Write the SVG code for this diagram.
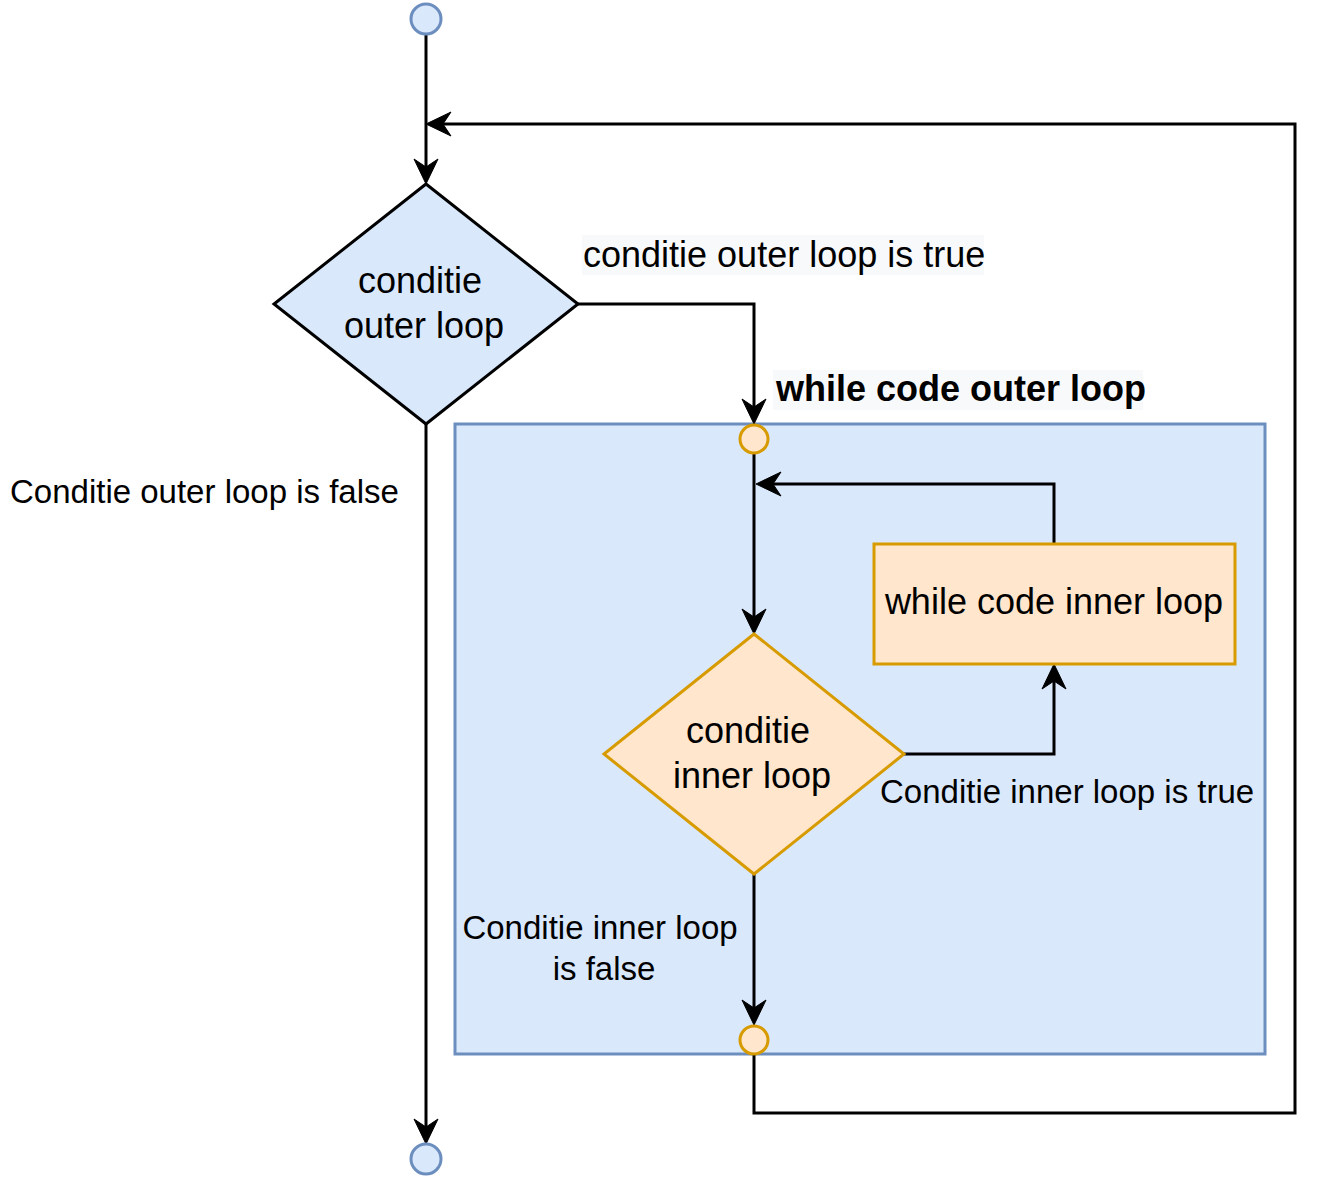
<svg xmlns="http://www.w3.org/2000/svg" width="1323" height="1179" viewBox="0 0 1323 1179">
<style>
.edge{fill:none;stroke:#000;stroke-width:3}
.blue{fill:#dae8fc;stroke:#6c8ebf;stroke-width:3}
.orange{fill:#ffe6cc;stroke:#d79b00;stroke-width:3}
.dia-blue{fill:#dae8fc;stroke:#000;stroke-width:3}
.t{font-family:"Liberation Sans",Arial,sans-serif;fill:#000}
.n{font-size:36px;text-anchor:middle}
.l{font-size:33px}
.lbg{fill:#f8f9fa}
</style>
<defs>
<marker id="arr" markerUnits="userSpaceOnUse" viewBox="-26 -13 27 26" markerWidth="27" markerHeight="26" refX="-17" refY="0" orient="auto" overflow="visible">
<path d="M0,0 L-25,-12 L-17,0 L-25,12 Z" fill="#000" stroke="#000" stroke-width="1"/>
</marker>
</defs>
<rect width="1323" height="1179" fill="#fff"/>
<g id="container">
<rect class="blue" x="455" y="424" width="810" height="630"/>
</g>
<g id="connectors">
<path class="edge" d="M426,34 L426,167" marker-end="url(#arr)"/>
<path class="edge" d="M754,1054 L754,1113 L1295,1113 L1295,124 L443,124" marker-end="url(#arr)"/>
<path class="edge" d="M578,304 L754,304 L754,407" marker-end="url(#arr)"/>
<path class="edge" d="M426,424 L426,1127" marker-end="url(#arr)"/>
<path class="edge" d="M754,453 L754,617" marker-end="url(#arr)"/>
<path class="edge" d="M904,754 L1054,754 L1054,681" marker-end="url(#arr)"/>
<path class="edge" d="M1054,544 L1054,484 L773,484" marker-end="url(#arr)"/>
<path class="edge" d="M754,874 L754,1008" marker-end="url(#arr)"/>
</g>
<g id="start"><circle class="blue" cx="426" cy="19" r="15"/></g>
<g id="end"><circle class="blue" cx="426" cy="1159" r="15"/></g>
<g id="outer-condition">
<polygon class="dia-blue" points="426,184 578,304 426,424 274,304"/>
<text class="t n" x="420" y="293">conditie</text>
<text class="t n" x="424" y="338">outer loop</text>
</g>
<g id="label-outer-true">
<rect class="lbg" x="582" y="235" width="402" height="40"/>
<text class="t" x="583" y="267" font-size="36">conditie outer loop is true</text>
</g>
<g id="label-outer-false">
<text class="t l" x="10" y="503">Conditie outer loop is false</text>
</g>
<g id="label-while-outer">
<rect class="lbg" x="773" y="370" width="370" height="40"/>
<text class="t" x="776" y="401" font-size="36" font-weight="bold">while code outer loop</text>
</g>
<g id="inner-start"><circle class="orange" cx="754" cy="439" r="14"/></g>
<g id="inner-end"><circle class="orange" cx="754" cy="1040" r="14"/></g>
<g id="inner-condition">
<polygon class="orange" points="754,634 904,754 754,874 604,754"/>
<text class="t n" x="748" y="743">conditie</text>
<text class="t n" x="752" y="788">inner loop</text>
</g>
<g id="inner-body">
<rect class="orange" x="874" y="544" width="361" height="120"/>
<text class="t n" x="1054" y="614">while code inner loop</text>
</g>
<g id="label-inner-true">
<text class="t l" x="880" y="803">Conditie inner loop is true</text>
</g>
<g id="label-inner-false">
<text class="t l" x="600" y="939" text-anchor="middle">Conditie inner loop</text>
<text class="t l" x="604" y="980" text-anchor="middle">is false</text>
</g>
</svg>
